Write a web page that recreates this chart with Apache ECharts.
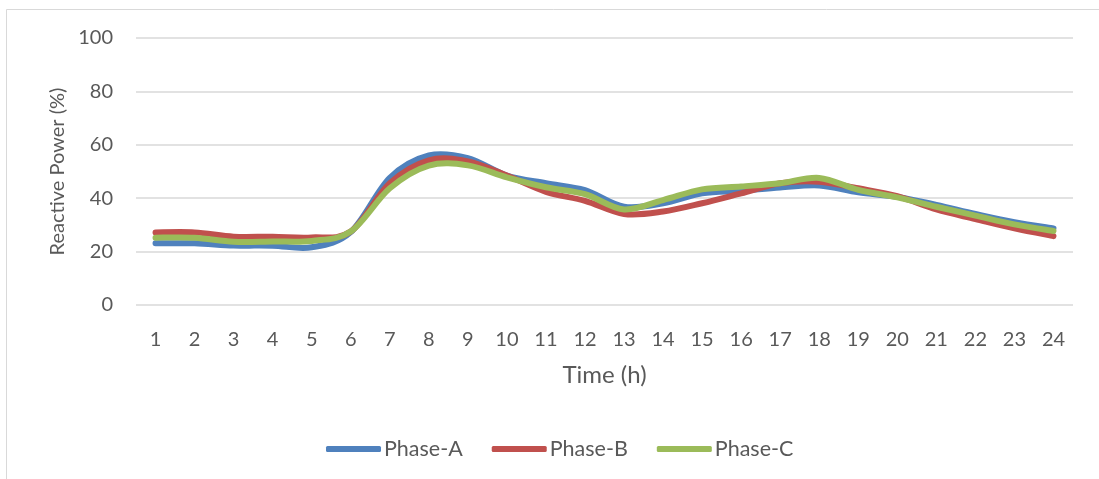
<!DOCTYPE html>
<html>
<head>
<meta charset="utf-8">
<script src="https://cdn.jsdelivr.net/npm/echarts@6/dist/echarts.min.js"></script>
<style>
  html, body { margin: 0; padding: 0; background: #fff; }
  #chart { width: 1099px; height: 479px; }
</style>
</head>
<body>
<div id="chart"></div>
<script>
// Hourly reactive power per phase (% of rated)
const hours = ['1','2','3','4','5','6','7','8','9','10','11','12','13','14','15','16','17','18','19','20','21','22','23','24'];
const phaseA = [23.1, 23.1, 22.3, 22.2, 21.6, 27.3, 47.6, 56.0, 55.0, 48.5, 45.6, 43.0, 36.8, 38.1, 41.8, 42.8, 44.0, 44.8, 42.2, 40.5, 37.5, 34.1, 31.0, 28.7];
const phaseB = [27.2, 27.2, 25.6, 25.6, 25.3, 27.5, 45.6, 54.2, 53.8, 48.5, 42.4, 39.0, 34.1, 35.0, 38.1, 41.8, 45.6, 46.2, 43.7, 40.8, 35.8, 32.2, 28.7, 25.8];
const phaseC = [25.2, 25.2, 23.7, 23.8, 24.0, 27.5, 43.7, 52.2, 52.3, 47.8, 44.1, 41.5, 35.8, 39.3, 43.3, 44.4, 45.6, 47.6, 43.1, 40.3, 36.8, 33.5, 30.2, 27.7];
const yTicks = { min: 0, max: 100, interval: 20 };

const font = 'Lato, "Liberation Sans", sans-serif';
const textColor = '#595959';

const chart = echarts.init(document.getElementById('chart'), null, { renderer: 'canvas' });

// Smoothed line through every point (cardinal spline, tension 1/6),
// drawn once per series from the axis-mapped coordinates.
function curveSeries(name, values, color) {
  return {
    name: name,
    type: 'custom',
    data: values.map(function (v, i) { return [i, v]; }),
    encode: { x: 0, y: 1 },
    clip: false,
    itemStyle: { color: color },
    renderItem: function (params, api) {
      if (params.dataIndex !== 0) return null;
      const p = values.map(function (v, i) { return api.coord([i, v]); });
      const n = p.length;
      let d = 'M' + p[0][0] + ' ' + p[0][1];
      for (let i = 0; i < n - 1; i++) {
        const p0 = p[Math.max(i - 1, 0)];
        const p1 = p[i];
        const p2 = p[i + 1];
        const p3 = p[Math.min(i + 2, n - 1)];
        const c1x = p1[0] + (p2[0] - p0[0]) / 6;
        const c1y = p1[1] + (p2[1] - p0[1]) / 6;
        const c2x = p2[0] - (p3[0] - p1[0]) / 6;
        const c2y = p2[1] - (p3[1] - p1[1]) / 6;
        d += ' C' + c1x + ' ' + c1y + ' ' + c2x + ' ' + c2y + ' ' + p2[0] + ' ' + p2[1];
      }
      return {
        type: 'path',
        shape: { pathData: d },
        style: { fill: 'none', stroke: color, lineWidth: 6, lineCap: 'round', lineJoin: 'round' },
        silent: true
      };
    }
  };
}

chart.setOption({
  animation: false,
  backgroundColor: '#ffffff',
  graphic: [{
    type: 'rect',
    shape: { x: 6.5, y: 9.5, width: 1200, height: 600 },
    style: { fill: 'none', stroke: '#d9d9d9', lineWidth: 1 },
    silent: true
  }],
  grid: { left: 136, right: 26, top: 38, bottom: 174, containLabel: false },
  legend: {
    left: 321,
    top: 433,
    icon: 'roundRect',
    itemWidth: 55,
    itemHeight: 6,
    itemGap: 29,
    textStyle: { fontFamily: font, fontSize: 21.5, color: textColor, padding: [0, 0, 0, -2] },
    data: ['Phase-A', 'Phase-B', 'Phase-C']
  },
  xAxis: {
    type: 'category',
    data: hours,
    boundaryGap: true,
    name: 'Time (h)',
    nameLocation: 'middle',
    nameGap: 58,
    nameTextStyle: { fontFamily: font, fontSize: 24, color: textColor },
    axisLine: { show: false },
    axisTick: { show: false },
    axisLabel: { fontFamily: font, fontSize: 20, color: textColor, margin: 25, interval: 0 },
    splitLine: { show: false }
  },
  yAxis: {
    type: 'value',
    min: yTicks.min,
    max: yTicks.max,
    interval: yTicks.interval,
    name: 'Reactive Power (%)',
    nameLocation: 'middle',
    nameGap: 66,
    nameTextStyle: { fontFamily: font, fontSize: 20, color: textColor },
    axisLine: { show: false },
    axisTick: { show: false },
    axisLabel: { fontFamily: font, fontSize: 20, color: textColor, margin: 23 },
    splitLine: { show: true, lineStyle: { color: '#d9d9d9', width: 1.5 } }
  },
  series: [
    curveSeries('Phase-A', phaseA, '#4f81bd'),
    curveSeries('Phase-B', phaseB, '#c0504d'),
    curveSeries('Phase-C', phaseC, '#9bbb59')
  ]
});
</script>
</body>
</html>
